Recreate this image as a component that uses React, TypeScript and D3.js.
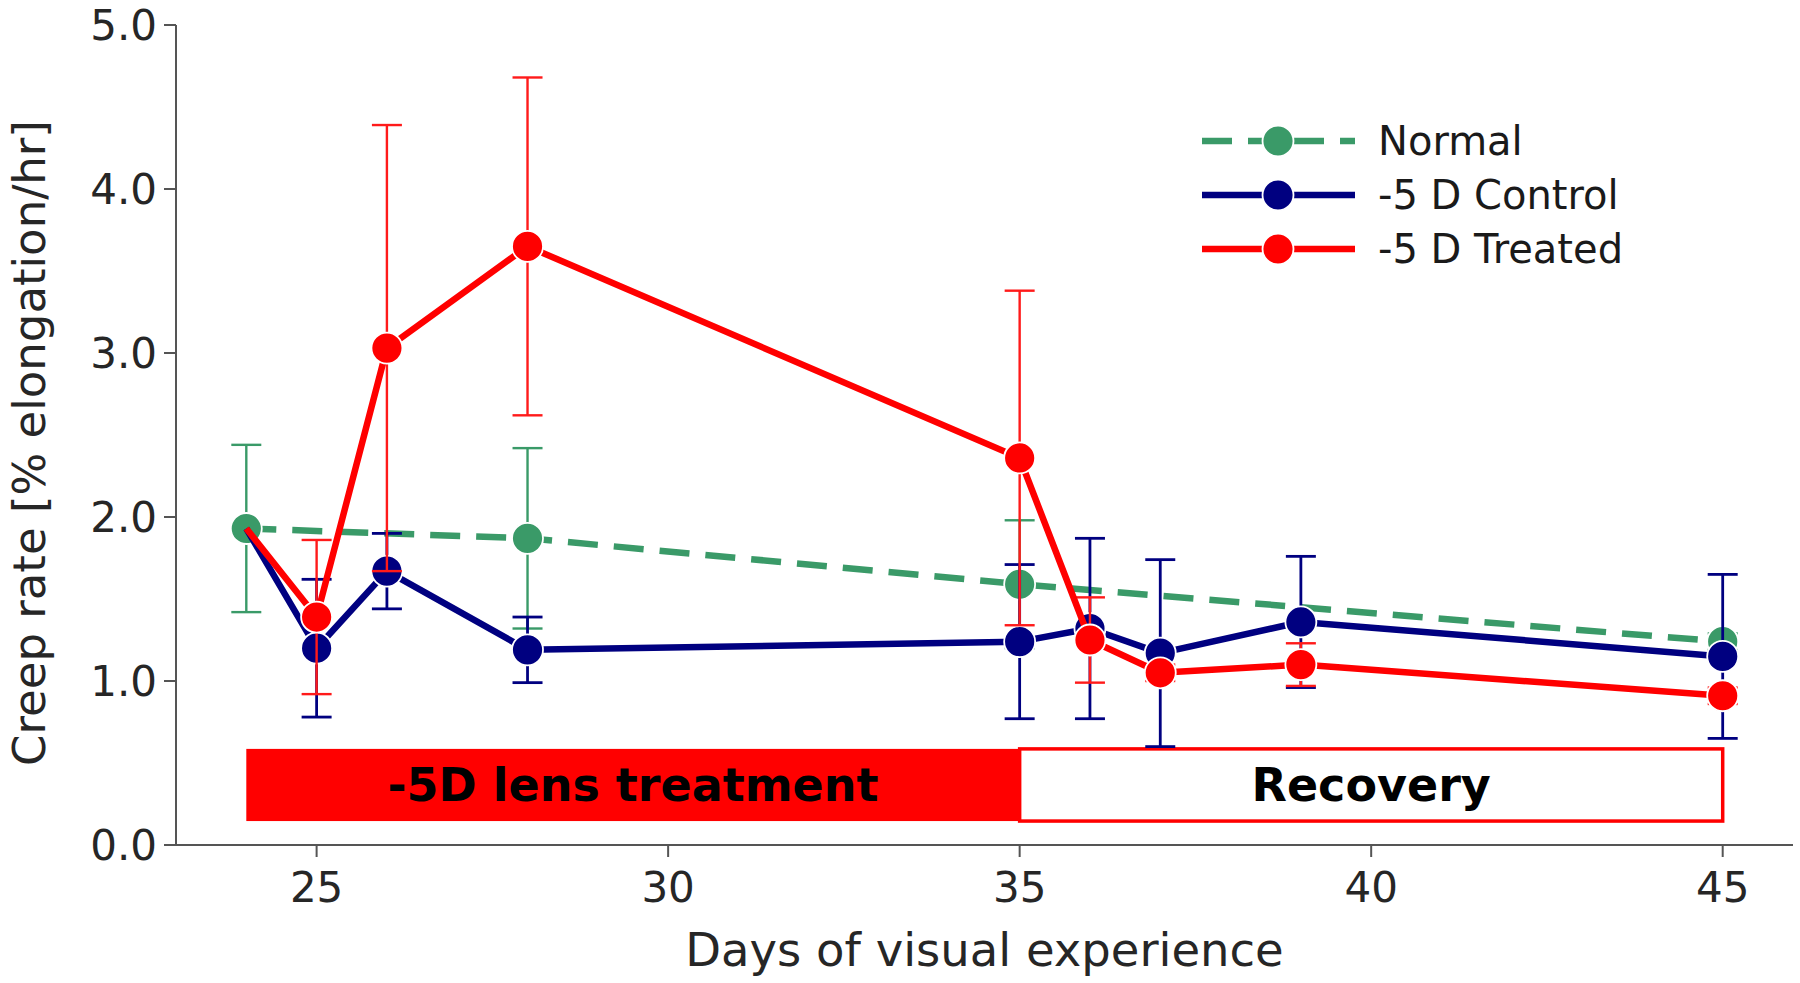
import React from 'react';
import * as d3 from 'd3';

// days on the x axis
const normalDays = [24, 28, 35, 45];
const normalMean = [1.93, 1.87, 1.59, 1.24];
const normalErr = [0.51, 0.55, 0.39, 0.05];

const controlDays = [24, 25, 26, 28, 35, 36, 37, 39, 45];
const controlMean = [1.93, 1.2, 1.67, 1.19, 1.24, 1.32, 1.17, 1.36, 1.15];
const controlErr = [0, 0.42, 0.23, 0.2, 0.47, 0.55, 0.57, 0.4, 0.5];

const treatedDays = [24, 25, 26, 28, 35, 36, 37, 39, 45];
const treatedMean = [1.93, 1.39, 3.03, 3.65, 2.36, 1.25, 1.05, 1.1, 0.91];
const treatedErr = [0, 0.47, 1.36, 1.03, 1.02, 0.26, 0.05, 0.13, 0.05];

const xTicks = [25, 30, 35, 40, 45];
const yTicks = [0, 1, 2, 3, 4, 5];

const phases = [
  { label: '-5D lens treatment', start: 24, end: 35, filled: true },
  { label: 'Recovery', start: 35, end: 45, filled: false },
];
const phaseBand = [0.146, 0.586];

const legendItems = [
  { label: 'Normal', color: '#3a9a68', dash: '30 16' },
  { label: '-5 D Control', color: '#000080', dash: null },
  { label: '-5 D Treated', color: '#ff0000', dash: null },
];

const W = 1800;
const H = 983;
const margin = { left: 176, right: 7, top: 25, bottom: 138 };
const font = '"DejaVu Sans", sans-serif';

const x = d3.scaleLinear().domain([23, 46]).range([margin.left, W - margin.right]);
const y = d3.scaleLinear().domain([0, 5]).range([H - margin.bottom, margin.top]);

type Series = {
  days: number[];
  mean: number[];
  err: number[];
  color: string;
  errColor: string;
  errWidth: number;
  dash: string | null;
  markerFrom: number;
};

const series: Series[] = [
  { days: normalDays, mean: normalMean, err: normalErr, color: '#3a9a68', errColor: '#3a9a68', errWidth: 2.4, dash: '30 16', markerFrom: 0 },
  { days: controlDays, mean: controlMean, err: controlErr, color: '#000080', errColor: '#000080', errWidth: 2.8, dash: null, markerFrom: 1 },
  { days: treatedDays, mean: treatedMean, err: treatedErr, color: '#ff0000', errColor: '#ff1a1a', errWidth: 2.4, dash: null, markerFrom: 1 },
];

const line = d3.line<[number, number]>().x(d => x(d[0])).y(d => y(d[1]));

const SeriesMarks: React.FC<{ s: Series }> = ({ s }) => {
  const pts = s.days.map((d, i) => [d, s.mean[i]] as [number, number]);
  const cap = 15;
  return (
    <g>
      {s.days.map((d, i) => s.err[i] > 0 && (
        <g key={'e' + i} stroke={s.errColor} strokeWidth={s.errWidth}>
          <line x1={x(d)} x2={x(d)} y1={y(s.mean[i] - s.err[i])} y2={y(s.mean[i] + s.err[i])} />
          <line x1={x(d) - cap} x2={x(d) + cap} y1={y(s.mean[i] + s.err[i])} y2={y(s.mean[i] + s.err[i])} />
          <line x1={x(d) - cap} x2={x(d) + cap} y1={y(s.mean[i] - s.err[i])} y2={y(s.mean[i] - s.err[i])} />
        </g>
      ))}
      <path d={line(pts) || ''} fill="none" stroke={s.color} strokeWidth={6.5}
        strokeDasharray={s.dash || undefined} strokeLinejoin="round" />
      {pts.slice(s.markerFrom).map((p, i) => (
        <circle key={'m' + i} cx={x(p[0])} cy={y(p[1])} r={15.5} fill={s.color} stroke="#fff" strokeWidth={1.8} />
      ))}
    </g>
  );
};

const App: React.FC = () => {
  const x0 = margin.left;
  const yBase = H - margin.bottom;
  return (
    <svg width={W} height={H} style={{ position: 'absolute', left: 0, top: 0, background: '#fff' }}
      fontFamily={font}>
      {/* phase bars */}
      {phases.map(p => (
        <g key={p.label}>
          <rect x={x(p.start)} width={x(p.end) - x(p.start)}
            y={y(phaseBand[1])} height={y(phaseBand[0]) - y(phaseBand[1])}
            fill={p.filled ? '#ff0000' : '#fff'} stroke="#ff0000" strokeWidth={p.filled ? 0 : 3.5} />
          <text x={(x(p.start) + x(p.end)) / 2} y={(y(phaseBand[0]) + y(phaseBand[1])) / 2}
            textAnchor="middle" dominantBaseline="central" fontWeight="bold" fontSize={46} fill="#000">
            {p.label}
          </text>
        </g>
      ))}

      {series.map((s, i) => <SeriesMarks key={i} s={s} />)}

      {/* axes */}
      <g stroke="#555" strokeWidth={2}>
        <line x1={x0} x2={x0} y1={y(5)} y2={yBase} />
        <line x1={x0} x2={W - margin.right} y1={yBase} y2={yBase} />
        {yTicks.map(t => <line key={'yt' + t} x1={x0 - 12} x2={x0} y1={y(t)} y2={y(t)} />)}
        {xTicks.map(t => <line key={'xt' + t} x1={x(t)} x2={x(t)} y1={yBase} y2={yBase + 12} />)}
      </g>
      <g fill="#262626" fontSize={42}>
        {yTicks.map(t => (
          <text key={'yl' + t} x={x0 - 19} y={y(t)} textAnchor="end" dominantBaseline="central">
            {d3.format('.1f')(t)}
          </text>
        ))}
        {xTicks.map(t => (
          <text key={'xl' + t} x={x(t)} y={yBase + 57} textAnchor="middle">{t}</text>
        ))}
      </g>
      <text x={(x0 + W - margin.right) / 2} y={966} textAnchor="middle" fontSize={46.5} fill="#262626">
        Days of visual experience
      </text>
      <text transform={`translate(45, ${(y(5) + yBase) / 2 + 8}) rotate(-90)`} textAnchor="middle"
        fontSize={45} fill="#262626">
        Creep rate [% elongation/hr]
      </text>

      {/* legend */}
      <g>
        {legendItems.map((l, i) => {
          const ly = 141 + i * 54;
          return (
            <g key={l.label}>
              <line x1={1202} x2={1355} y1={ly} y2={ly} stroke={l.color} strokeWidth={6.5}
                strokeDasharray={l.dash || undefined} />
              <circle cx={1278} cy={ly} r={15.5} fill={l.color} stroke="#fff" strokeWidth={1.8} />
              <text x={1378} y={ly} dominantBaseline="central" fontSize={40} fill="#1a1a1a">{l.label}</text>
            </g>
          );
        })}
      </g>
    </svg>
  );
};

export default App;
